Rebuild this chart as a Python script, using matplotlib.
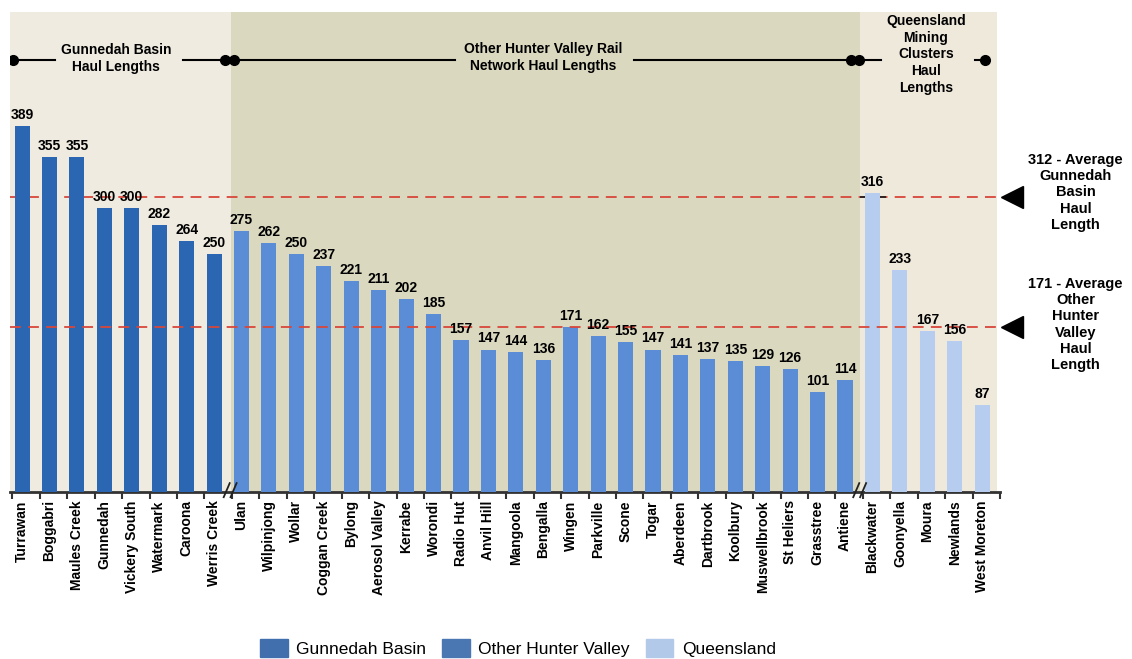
import matplotlib
matplotlib.use('Agg')
import matplotlib.pyplot as plt
from matplotlib.patches import Patch

plt.rcParams['font.family'] = ['Liberation Sans', 'DejaVu Sans']

# haul lengths (km)
gb_names = ['Turrawan', 'Boggabri', 'Maules Creek', 'Gunnedah', 'Vickery South',
            'Watermark', 'Caroona', 'Werris Creek']
gb_vals = [389, 355, 355, 300, 300, 282, 264, 250]
hv_names = ['Ulan', 'Wilpinjong', 'Wollar', 'Coggan Creek', 'Bylong', 'Aerosol Valley',
            'Kerrabe', 'Worondi', 'Radio Hut', 'Anvil Hill', 'Mangoola', 'Bengalla',
            'Wingen', 'Parkville', 'Scone', 'Togar', 'Aberdeen', 'Dartbrook', 'Koolbury',
            'Muswellbrook', 'St Heliers', 'Grasstree', 'Antiene']
hv_vals = [275, 262, 250, 237, 221, 211, 202, 185, 157, 147, 144, 136, 171, 162, 155,
           147, 141, 137, 135, 129, 126, 101, 114]
qld_names = ['Blackwater', 'Goonyella', 'Moura', 'Newlands', 'West Moreton']
qld_vals = [316, 233, 167, 156, 87]
avg_gb = 312
avg_hv = 171

c_gb, c_hv, c_qld = '#2b66b2', '#5a8dd6', '#b6cdf0'
names = gb_names + hv_names + qld_names
vals = gb_vals + hv_vals + qld_vals
colors = [c_gb] * len(gb_vals) + [c_hv] * len(hv_vals) + [c_qld] * len(qld_vals)
x = list(range(len(vals)))
y0 = -7
b1 = len(gb_vals) - 0.4
b2 = len(gb_vals) + len(hv_vals) - 0.45

fig = plt.figure(figsize=(11.32, 6.59), dpi=100)
ax = fig.add_axes([10 / 1132, (659 - 492) / 659, 990 / 1132, 480 / 659])
ax.set_xlim(-0.44, 35.55)
ax.set_ylim(y0, 512)

# shaded regions
ax.axvspan(-0.44, b1, color='#efebe0', zorder=0, lw=0)
ax.axvspan(b1, b2, color='#dad8bf', zorder=0, lw=0)
ax.axvspan(b2, 35.55, color='#efe9dc', zorder=0, lw=0)

ax.bar(x, [v - y0 for v in vals], bottom=y0, width=0.55, color=colors, zorder=3)
for xi, v in zip(x, vals):
    ax.annotate(str(v), (xi, v), xytext=(0, 3), textcoords='offset points',
                ha='center', va='bottom', fontsize=10, fontweight='bold', zorder=5)

# average lines
ax.axhline(avg_gb, color='#d8463a', ls=(0, (6, 4)), lw=1.3, zorder=2)
ax.plot([b2, 31.5], [avg_gb, avg_gb], color='#222222', ls=(0, (6, 4)), lw=1.3, zorder=2)
ax.axhline(avg_hv, color='#d8463a', ls=(0, (6, 4)), lw=1.3, zorder=4)

ax.plot([36.07], [avg_gb], marker='<', ms=16, color='black', clip_on=False)
ax.plot([36.07], [avg_hv], marker='<', ms=16, color='black', clip_on=False)
fig.text(0.95, 1 - 153 / 659, '312 - Average\nGunnedah\nBasin\nHaul\nLength',
         ha='center', va='top', fontsize=10.5, fontweight='bold', linespacing=1.2)
fig.text(0.95, 1 - 277 / 659, '171 - Average\nOther\nHunter\nValley\nHaul\nLength',
         ha='center', va='top', fontsize=10.5, fontweight='bold', linespacing=1.2)

# region headers with connector lines
yl = 460
ax.plot([-0.33, 1.2], [yl, yl], color='black', lw=1.5, zorder=4)
ax.plot([-0.33], [yl], 'o', color='black', ms=7, zorder=4)
ax.plot([5.85, 15.8], [yl, yl], color='black', lw=1.5, zorder=4)
ax.plot([22.3, 31.3], [yl, yl], color='black', lw=1.5, zorder=4)
ax.plot([7.4, 7.72, 30.22, 30.52], [yl] * 4, 'o', color='black', ms=7, zorder=4, ls='none')
ax.plot([34.75, 35.1], [yl, yl], color='black', lw=1.5, zorder=4)
ax.plot([35.1], [yl], 'o', color='black', ms=7, zorder=4)
ax.text(3.42, yl + 2, 'Gunnedah Basin\nHaul Lengths', ha='center', va='center',
        fontsize=10, fontweight='bold', linespacing=1.25)
ax.text(18.98, yl + 3, 'Other Hunter Valley Rail\nNetwork Haul Lengths', ha='center',
        va='center', fontsize=10, fontweight='bold', linespacing=1.25)
ax.text(32.95, 510, 'Queensland\nMining\nClusters\nHaul\nLengths', ha='center', va='top',
        fontsize=10, fontweight='bold', linespacing=1.25)

# axis break marks
for xb in (7.35, 7.6, 30.3, 30.55):
    ax.plot([xb, xb + 0.22], [-12.6, 2.6], color='#222222', lw=1.3, clip_on=False, zorder=6)

for s in ('top', 'right', 'left'):
    ax.spines[s].set_visible(False)
ax.spines['bottom'].set_linewidth(2)
ax.spines['bottom'].set_color('#333333')
ax.set_yticks([])
ax.set_xticks(x)
ax.set_xticklabels(names, rotation=90, fontsize=10, fontweight='bold')
ax.tick_params(axis='x', length=0, pad=6)
ax.set_xticks([i - 0.35 for i in range(len(vals) + 1)], minor=True)
ax.tick_params(axis='x', which='minor', length=5, width=1.5, color='#333333')

handles = [Patch(color='#416fae', label='Gunnedah Basin'),
           Patch(color='#4a77b2', label='Other Hunter Valley'),
           Patch(color='#b3c9ea', label='Queensland')]
fig.legend(handles=handles, loc='center', bbox_to_anchor=(518 / 1132, 1 - 648 / 659),
           ncol=3, frameon=False, fontsize=12.5, handlelength=1.6, handleheight=1.2,
           columnspacing=0.9, handletextpad=0.5)

fig.savefig('out.png', dpi=100)
